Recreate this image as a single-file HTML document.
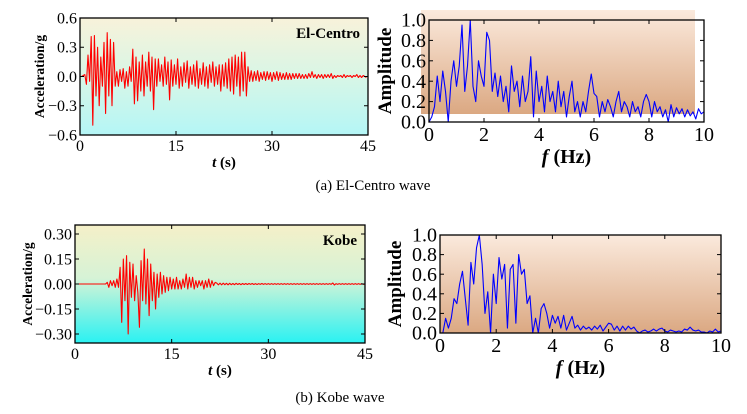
<!DOCTYPE html>
<html><head><meta charset="utf-8">
<style>
body{margin:0;background:#fff;}
svg{display:block;font-family:"Liberation Serif",serif;}
</style></head>
<body>
<svg id="fig" width="747" height="414" viewBox="0 0 747 414" xmlns="http://www.w3.org/2000/svg">
<defs>
<linearGradient id="gTime" x1="0" y1="0" x2="0" y2="1">
<stop offset="0" stop-color="#f8f2da"/><stop offset="0.5" stop-color="#d8f6e6"/><stop offset="1" stop-color="#b4f6f6"/></linearGradient>
<linearGradient id="gTime2" x1="0" y1="0" x2="0" y2="1">
<stop offset="0" stop-color="#f5f0c8"/><stop offset="0.45" stop-color="#d6f3d6"/><stop offset="1" stop-color="#2af2f2"/></linearGradient>
<linearGradient id="gFreq" x1="0" y1="0" x2="0" y2="1">
<stop offset="0" stop-color="#fbeadd"/><stop offset="1" stop-color="#dba882"/></linearGradient>
</defs>
<g id="layer"></g>
<text x="373" y="190" text-anchor="middle" font-size="15">(a) El-Centro wave</text>
<text x="340" y="402" text-anchor="middle" font-size="15">(b) Kobe wave</text>
</svg>
<script>
const elDt = 0.25;
const elAcc = [0,0,0.01,0.02,-0.08,0.22,-0.05,0.41,-0.5,0.42,-0.2,0.3,-0.3,0.2,-0.1,0.35,-0.38,0.45,-0.2,0.38,-0.3,0.35,-0.1,0.05,-0.1,0.07,-0.05,0.08,-0.12,0.05,-0.1,0.1,-0.05,0.28,-0.28,0.2,-0.25,0.15,-0.15,0.22,-0.2,0.15,-0.1,0.25,-0.15,0.2,-0.34,0.18,-0.1,0.18,-0.05,0.12,-0.1,0.2,-0.08,0.15,-0.24,0.17,-0.1,0.12,-0.08,0.18,-0.12,0.1,-0.1,0.14,-0.06,0.16,-0.12,0.1,-0.08,0.12,-0.1,0.16,-0.12,0.08,-0.08,0.14,-0.1,0.1,-0.12,0.12,-0.06,0.15,-0.1,0.1,-0.08,0.12,-0.15,0.12,-0.1,0.14,-0.12,0.18,-0.15,0.2,-0.18,0.22,-0.1,0.2,-0.2,0.25,-0.15,0.25,-0.2,0.1,-0.05,0.06,-0.05,0.05,-0.04,0.06,-0.05,0.04,-0.03,0.05,-0.04,0.05,-0.03,0.04,-0.05,0.04,-0.03,0.05,-0.04,0.04,-0.03,0.03,-0.03,0.04,-0.03,0.03,-0.03,0.03,-0.02,0.03,-0.02,0.03,-0.02,0.02,-0.02,0.02,-0.02,0.03,-0.01,0.05,-0.01,0.02,-0.02,0.02,-0.01,0.02,-0.02,0.02,-0.01,0.02,-0.01,0.03,-0.02,0.01,-0.01,0.01,0,0.01,-0.01,0.02,-0.01,0.01,0,0.01,-0.01,0.01,0,0.02,-0.01,0.01,-0.01,0.01,0,-0.01];
const kobeDt = 0.25;
const kobeAcc = [0,0,0,0,0,0,0,0,0,0,0,0,0,0,0,0,0,0,0,0,0.01,-0.02,0.02,-0.01,0.02,-0.02,0.03,-0.02,0.1,-0.23,0.15,-0.1,0.17,-0.3,0.13,-0.08,0.12,-0.1,0.05,-0.05,-0.26,0.14,-0.1,0.21,-0.12,0.15,-0.19,0.12,-0.1,0.07,-0.15,0.06,-0.08,0.07,-0.06,0.05,-0.05,0.04,-0.04,0.04,-0.03,0.03,-0.03,0.04,-0.03,0.02,-0.03,0.03,-0.02,0.06,-0.03,0.04,-0.02,0.04,-0.03,0.02,-0.02,0.02,-0.01,0.02,-0.03,0.02,-0.02,0.03,-0.02,0.02,-0.01,0.01,0.005,-0.005,0.005,-0.005,0.005,-0.004,0.004,-0.005,0.004,-0.004,0.003,-0.004,0.004,-0.003,0.003,-0.004,0.003,-0.003,0.003,-0.003,0.003,-0.002,0.003,-0.003,0.002,-0.003,0.002,-0.002,0.003,-0.002,0.002,-0.002,0.002,-0.002,0.002,-0.002,0.002,-0.002,0.002,-0.002,0.002,-0.002,0.002,-0.002,0.002,-0.002,0.002,-0.002,0.002,-0.002,0.002,-0.002,0.002,-0.002,0.002,-0.002,0.002,-0.002,0.002,-0.002,0.002,-0.002,0.002,-0.002,0.002,-0.002,0.002,-0.002,0.002,-0.002,0.002,-0.002,0.006,-0.006,0.002,-0.002,0.002,-0.002,0.002,-0.002,0.002,-0.002,0.002,-0.002,0.002,-0.002,0.002,-0.002,0.002,-0.002,0.002,-0.002,0];
const fDf = 0.1;
const elAmp = [0,0.05,0.15,0.45,0.2,0.5,0.3,0,0.4,0.6,0.35,0.55,0.95,0.3,0.55,1.0,0.35,0.2,0.6,0.45,0.35,0.88,0.8,0.3,0.48,0.25,0.45,0.2,0.35,0.1,0.55,0.3,0.4,0.15,0.45,0.2,0.3,0.64,0.05,0.5,0.2,0.35,0.1,0.45,0.2,0.3,0.1,0.4,0.15,0.3,0.05,0.25,0.4,0.1,0.2,0.05,0.2,0.1,0.3,0.47,0.28,0.25,0.05,0.2,0.1,0.22,0.15,0.05,0.2,0.3,0.1,0.2,0.15,0.05,0.2,0.1,0.15,0.05,0.2,0.27,0.2,0.05,0.2,0.1,0.15,0.05,0.12,0,0.17,0.05,0.14,0.08,0.13,0.05,0.12,0.06,0.1,0.03,0.13,0.08,0.1];
const kobeAmp = [0,0,0.15,0.05,0.15,0.35,0.3,0.5,0.63,0.35,0.08,0.72,0.5,0.87,1.0,0.7,0.2,0.42,0,0.6,0.3,0.77,0.55,0.7,0.05,0.65,0.7,0.1,0.8,0.6,0.65,0.3,0.38,0,0.15,0,0.25,0.3,0.2,0.05,0.18,0.1,0.17,0.05,0.18,0.03,0.1,0.17,0.05,0.08,0.03,0.07,0.04,0.06,0.03,0.07,0.04,0.08,0.02,0.06,0.1,0.09,0.03,0.07,0.02,0.07,0.03,0.07,0.04,0.06,0.02,0,0.02,0.03,0.01,0.02,0.04,0.02,0.04,0.05,0.02,0.01,0.03,0.02,0.01,0.02,0.01,0.04,0.03,0.06,0.03,0.02,0.03,0.01,0.01,0,0.02,0.01,0.04,0.01,0.02];
const timeTicks = [0,15,30,45];
const elYTicks = [-0.6,-0.3,0.0,0.3,0.6];
const kobeYTicks = [-0.30,-0.15,0.00,0.15,0.30];
const freqXTicks = [0,2,4,6,8,10];
const ampTicks = [0,0.2,0.4,0.6,0.8,1.0];

const NS='http://www.w3.org/2000/svg';
const layer=document.getElementById('layer');
function mk(tag,attrs,parent){const e=document.createElementNS(NS,tag);for(const k in attrs)e.setAttribute(k,attrs[k]);(parent||layer).appendChild(e);return e;}

function panel(o){
  const g=mk('g',{});
  
  
  const sx=v=>o.x0+(v-o.xmin)/(o.xmax-o.xmin)*(o.x1-o.x0);
  const sy=v=>o.y1-(v-o.ymin)/(o.ymax-o.ymin)*(o.y1-o.y0);
  const bg=mk('rect',o.bgRect||{x:o.x0,y:o.y0,width:o.x1-o.x0,height:o.y1-o.y0},g);
  bg.setAttribute('fill',o.fill);
  
  
  let d='';
  o.vals.forEach((v,i)=>{d+=(i?'L':'M')+sx(i*o.step).toFixed(2)+','+sy(v).toFixed(2);});
  const line=mk('path',{d:d,fill:'none',stroke:o.color,'stroke-width':1.1,'stroke-linejoin':'round'},g);
  
  
  const fr=mk('rect',{x:o.x0,y:o.y0,width:o.x1-o.x0,height:o.y1-o.y0,fill:'none',stroke:'#000','stroke-width':1.3},g);
  
  
  o.xt.forEach(t=>{
    const X=sx(t);
    mk('line',{x1:X,x2:X,y1:o.y1,y2:o.y1-4,stroke:'#000'},g);
    mk('line',{x1:X,x2:X,y1:o.y0,y2:o.y0+4,stroke:'#000'},g);
    const tx=mk('text',{x:X,y:o.y1+o.xtOff,'text-anchor':'middle','font-size':o.tfs},g);
    tx.textContent=t;
    
    
  });
  o.yt.forEach(t=>{
    const Y=sy(t);
    mk('line',{x1:o.x0,x2:o.x0+4,y1:Y,y2:Y,stroke:'#000'},g);
    mk('line',{x1:o.x1,x2:o.x1-4,y1:Y,y2:Y,stroke:'#000'},g);
    const tx=mk('text',{x:o.x0-3,y:Y+o.tfs*0.33,'text-anchor':'end','font-size':o.tfs},g);
    tx.textContent=(t<0?'\u2212':'')+Math.abs(t).toFixed(o.yd);
    
    
  });
  const xl=mk('text',{x:(o.x0+o.x1)/2,y:o.xlY,'text-anchor':'middle','font-size':o.xlfs,'font-weight':'bold'},g);
  xl.innerHTML=o.xlab;
  
  
  const yl=mk('text',{x:0,y:0,'text-anchor':'middle','font-size':o.ylfs,'font-weight':'bold',transform:'translate('+o.ylX+','+(o.y0+o.y1)/2+') rotate(-90)'},g);
  yl.textContent=o.ylab;
  
  
  if(o.tag){
    const tg=mk('text',{x:o.x1-8,y:o.y0+20,'text-anchor':'end','font-size':15,'font-weight':'bold'},g);
    tg.textContent=o.tag;
    
    
  }
}
const tl='<tspan font-style="italic">t</tspan> (s)';
const fl='<tspan font-style="italic">f</tspan> (Hz)';
panel({name:'el-centro-time-chart',x0:80,x1:368,y0:18,y1:135,xmin:0,xmax:45,ymin:-0.6,ymax:0.6,step:elDt,vals:elAcc,color:'#ff0000',fill:'url(#gTime)',xt:timeTicks,yt:elYTicks,yd:1,tfs:16,xtOff:16,xlY:167,xlfs:15,xlab:tl,ylX:44,ylfs:13.5,ylab:'Acceleration/g',tag:'El-Centro'});
panel({name:'el-centro-spectrum-chart',x0:429,x1:704,y0:20,y1:122,xmin:0,xmax:10,ymin:0,ymax:1,step:fDf,vals:elAmp,color:'#0000ff',fill:'url(#gFreq)',bgRect:{x:421,y:10,width:274,height:104},xt:freqXTicks,yt:ampTicks,yd:1,tfs:20,xtOff:19,xlY:163,xlfs:20,xlab:fl,ylX:391,ylfs:19,ylab:'Amplitude'});
panel({name:'kobe-time-chart',x0:75,x1:365,y0:225,y1:343,xmin:0,xmax:45,ymin:-0.354,ymax:0.354,step:kobeDt,vals:kobeAcc,color:'#ff0000',fill:'url(#gTime2)',xt:timeTicks,yt:kobeYTicks,yd:2,tfs:16,xtOff:16,xlY:375,xlfs:15,xlab:tl,ylX:32,ylfs:13.5,ylab:'Acceleration/g',tag:'Kobe'});
panel({name:'kobe-spectrum-chart',x0:440,x1:721,y0:235,y1:333,xmin:0,xmax:10,ymin:0,ymax:1,step:fDf,vals:kobeAmp,color:'#0000ff',fill:'url(#gFreq)',xt:freqXTicks,yt:ampTicks,yd:1,tfs:20,xtOff:19,xlY:374,xlfs:20,xlab:fl,ylX:401,ylfs:19,ylab:'Amplitude'});
</script>
</body></html>
